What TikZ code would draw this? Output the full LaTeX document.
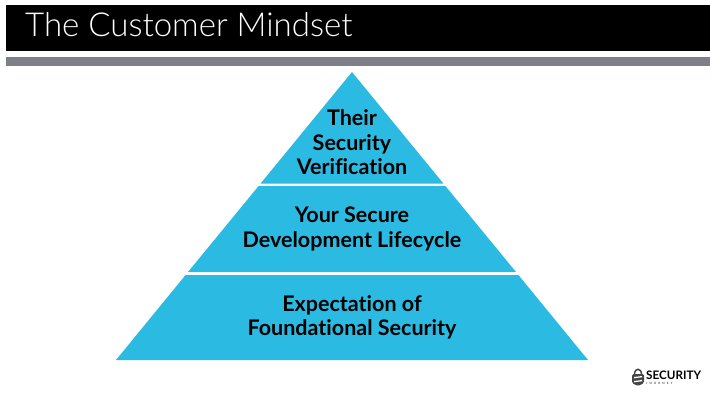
\documentclass[tikz,border=0pt]{standalone}
\usepackage{fontspec}
\setmainfont[Ligatures=NoCommon]{Lato}
\newfontfamily\lightfont[Ligatures=NoCommon]{Lato Light}
\definecolor{pyr}{HTML}{2BBBE2}
\definecolor{bar}{HTML}{7E8088}
\tikzset{
  tier/.style={fill=pyr,draw=none},
  tierlabel/.style={align=center,font=\bfseries\fontsize{21.5}{24.5}\selectfont,text=black,inner sep=0pt},
}
\begin{document}
\begin{tikzpicture}[x=1pt,y=-1pt]
\useasboundingbox (0,0) rectangle (710,407);
\fill[white] (0,0) rectangle (710,407);
\fill[black] (6,5) rectangle (710,51);
\fill[bar] (6,57) rectangle (710,66);
\node[anchor=west,inner sep=0pt,text=white,font=\lightfont\fontsize{33}{38}\selectfont] (title) at (25,24.5) {The Customer Mindset};
\fill[tier] (352,72) -- (443.4,183.5) -- (260.6,183.5) -- cycle;
\fill[tier] (258.6,186) -- (445.4,186) -- (516,272) -- (188,272) -- cycle;
\fill[tier] (185.6,275) -- (518.4,275) -- (588,360) -- (116,360) -- cycle;
\node[tierlabel] (top) at (352,142.5) {Their\\Security\\Verification};
\node[tierlabel] (mid) at (352,229) {Your Secure\\Development Lifecycle};
\node[tierlabel] (bot) at (352,317.5) {Expectation of\\Foundational Security};
% logo
\fill[black!72,rounded corners=1.5pt] (632,374) -- (644,374) -- (644,383) -- (638,386) -- (632,383) -- cycle;
\draw[black!72,line width=1.5pt] (634.5,374.5) .. controls (634.5,367.5) and (641.5,367.5) .. (641.5,374.5);
\fill[white] (634,377) -- (642,376) -- (642,377.3) -- (634,378.3) -- cycle;
\fill[white] (634,381) -- (642,380) -- (642,381.3) -- (634,382.3) -- cycle;
\node[anchor=west,inner sep=0pt,font=\bfseries\fontsize{11.7}{12}\selectfont] (logo) at (646,375.3) {SECURITY};
\node[anchor=west,inner sep=0pt,text=black!70,font=\bfseries\fontsize{3}{3}\addfontfeature{LetterSpace=70}\selectfont] (logob) at (646,383.2) {JOURNEY};
\end{tikzpicture}
\end{document}
